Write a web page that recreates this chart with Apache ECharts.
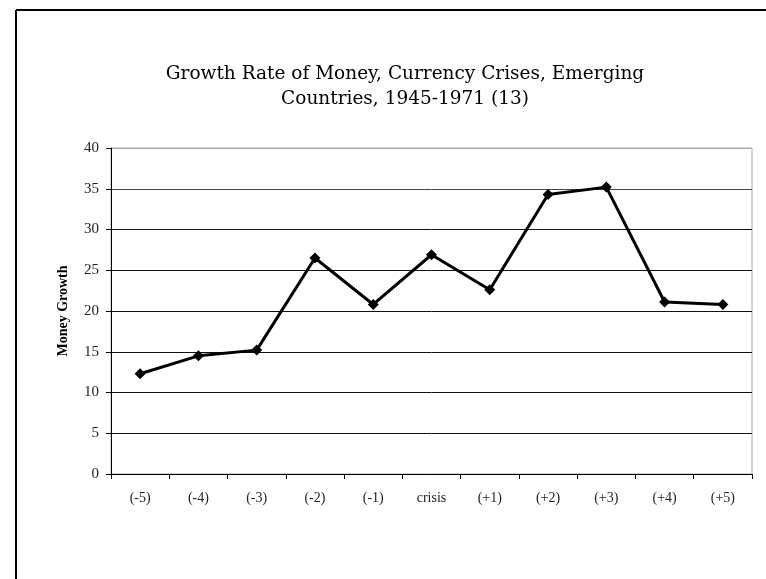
<!DOCTYPE html>
<html>
<head>
<meta charset="utf-8">
<script src="https://cdn.jsdelivr.net/npm/echarts@6/dist/echarts.min.js"></script>
<style>
html,body{margin:0;padding:0;background:#fff;}
#chart{width:766px;height:579px;}
</style>
</head>
<body>
<div id="chart"></div>
<script>
var categories = ['(-5)', '(-4)', '(-3)', '(-2)', '(-1)', 'crisis', '(+1)', '(+2)', '(+3)', '(+4)', '(+5)'];
var moneyGrowth = [12.3, 14.5, 15.2, 26.5, 20.8, 26.9, 22.6, 34.3, 35.2, 21.1, 20.8];
var yTicks = [0, 5, 10, 15, 20, 25, 30, 35, 40];

var serif = '"Liberation Serif", "DejaVu Serif", serif';
var myChart = echarts.init(document.getElementById('chart'));
myChart.setOption({
    animation: false,
    backgroundColor: '#fff',
    title: {
        text: 'Growth Rate of Money, Currency Crises, Emerging\nCountries, 1945-1971 (13)',
        left: 400,
        textAlign: 'center',
        top: 57,
        textStyle: {
            fontFamily: '"DejaVu Serif", serif',
            fontSize: 18.5,
            fontWeight: 'normal',
            color: '#000',
            lineHeight: 25
        }
    },
    grid: {
        left: 111,
        right: 14,
        top: 148,
        bottom: 105,
        show: true,
        borderColor: '#aaa',
        borderWidth: 1
    },
    xAxis: {
        type: 'category',
        data: categories,
        boundaryGap: true,
        axisLine: {lineStyle: {color: '#000', width: 1}},
        axisTick: {show: true, length: 5, lineStyle: {color: '#000'}},
        axisLabel: {
            margin: 17,
            fontFamily: serif,
            fontSize: 14,
            color: '#222'
        }
    },
    yAxis: {
        type: 'value',
        min: yTicks[0],
        max: yTicks[yTicks.length - 1],
        interval: 5,
        name: 'Money Growth',
        nameLocation: 'middle',
        nameGap: 41,
        nameTextStyle: {
            fontFamily: serif,
            fontSize: 14,
            fontWeight: 'bold',
            color: '#000'
        },
        axisLine: {show: true, lineStyle: {color: '#000', width: 1}},
        axisTick: {show: true, length: 5, lineStyle: {color: '#000'}},
        axisLabel: {
            margin: 12,
            fontFamily: serif,
            fontSize: 15,
            color: '#222'
        },
        splitLine: {
            show: true,
            lineStyle: {color: ['#000', '#111', '#111', '#111', '#111', '#111', '#111', '#444', '#aaa'], width: 1}
        }
    },
    series: [{
        name: 'Money Growth',
        type: 'line',
        data: moneyGrowth,
        symbol: 'diamond',
        symbolSize: 11,
        lineStyle: {color: '#000', width: 3},
        itemStyle: {color: '#000'}
    }],
    graphic: [
        {type: 'line', shape: {x1: 16, y1: 10, x2: 766, y2: 10}, style: {stroke: '#000', lineWidth: 2}},
        {type: 'line', shape: {x1: 16, y1: 10, x2: 16, y2: 579}, style: {stroke: '#000', lineWidth: 2}}
    ]
});
</script>
</body>
</html>
